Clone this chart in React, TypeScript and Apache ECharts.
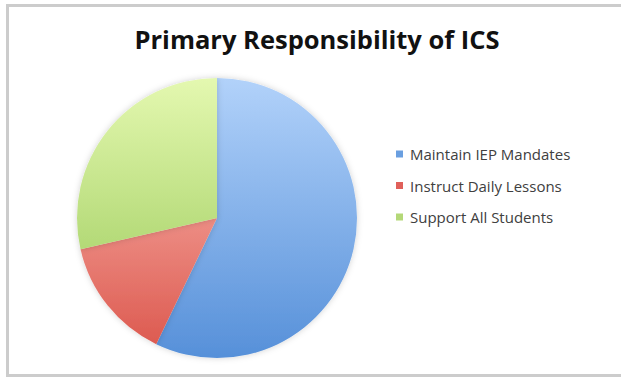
import React, { useEffect, useRef } from "react";
import * as echarts from "echarts";

const titleText = "Primary Responsibility of ICS";
const categories = ["Maintain IEP Mandates", "Instruct Daily Lessons", "Support All Students"];
const values = [8, 2, 4];
const gradientStops = [
  ["#b2d2fa", "#5690d9"],
  ["#ffc6be", "#db554b"],
  ["#e4f8b0", "#94c652"],
];
const legendColors = ["#6a9fe0", "#e0605a", "#b4d878"];

const CX = 217;
const CY = 218;
const R = 140;

export default function App() {
  const ref = useRef<HTMLDivElement>(null);
  useEffect(() => {
    if (!ref.current) return;
    const chart = echarts.init(ref.current, null, { renderer: "svg" });
    const data = categories.map((name, i) => ({
      name,
      value: values[i],
      itemStyle: {
        color: new echarts.graphic.LinearGradient(
          0, CY - R, 0, CY + R,
          [
            { offset: 0, color: gradientStops[i][0] },
            { offset: 1, color: gradientStops[i][1] },
          ],
          true
        ),
      },
    }));
    chart.setOption({
      animation: false,
      backgroundColor: "#ffffff",
      title: {
        text: titleText,
        left: 317,
        top: 26,
        textAlign: "center",
        padding: 0,
        textStyle: {
          fontFamily: "Open Sans",
          fontWeight: "bold",
          fontSize: 25.5,
          color: "#111111",
        },
      },
      legend: {
        orient: "vertical",
        left: 396,
        top: 146,
        padding: 0,
        itemWidth: 7,
        itemHeight: 7,
        itemGap: 15.5,
        icon: "rect",
        data: categories.map((name, i) => ({
          name,
          itemStyle: { color: legendColors[i] },
        })),
        textStyle: {
          fontFamily: "Open Sans",
          fontSize: 15,
          lineHeight: 16,
          color: "#404040",
          padding: [0, 0, 0, 2],
        },
      },
      graphic: [
        { type: "rect", shape: { x: 6, y: 4, width: 615, height: 3 }, style: { fill: "#cccccc" } },
        { type: "rect", shape: { x: 6, y: 4, width: 3, height: 373 }, style: { fill: "#cccccc" } },
        { type: "rect", shape: { x: 6, y: 374, width: 615, height: 3 }, style: { fill: "#cccccc" } },
      ],
      series: [
        {
          type: "pie",
          center: [CX, CY],
          radius: R,
          startAngle: 90,
          clockwise: true,
          label: { show: false },
          labelLine: { show: false },
          emphasis: { disabled: true },
          itemStyle: {
            borderWidth: 0,
            shadowBlur: 6,
            shadowColor: "rgba(0,0,0,0.18)",
          },
          data,
        },
      ],
    });
    return () => chart.dispose();
  }, []);
  return (
    <div
      ref={ref}
      style={{ position: "absolute", left: 0, top: 0, width: 621, height: 377 }}
    />
  );
}
